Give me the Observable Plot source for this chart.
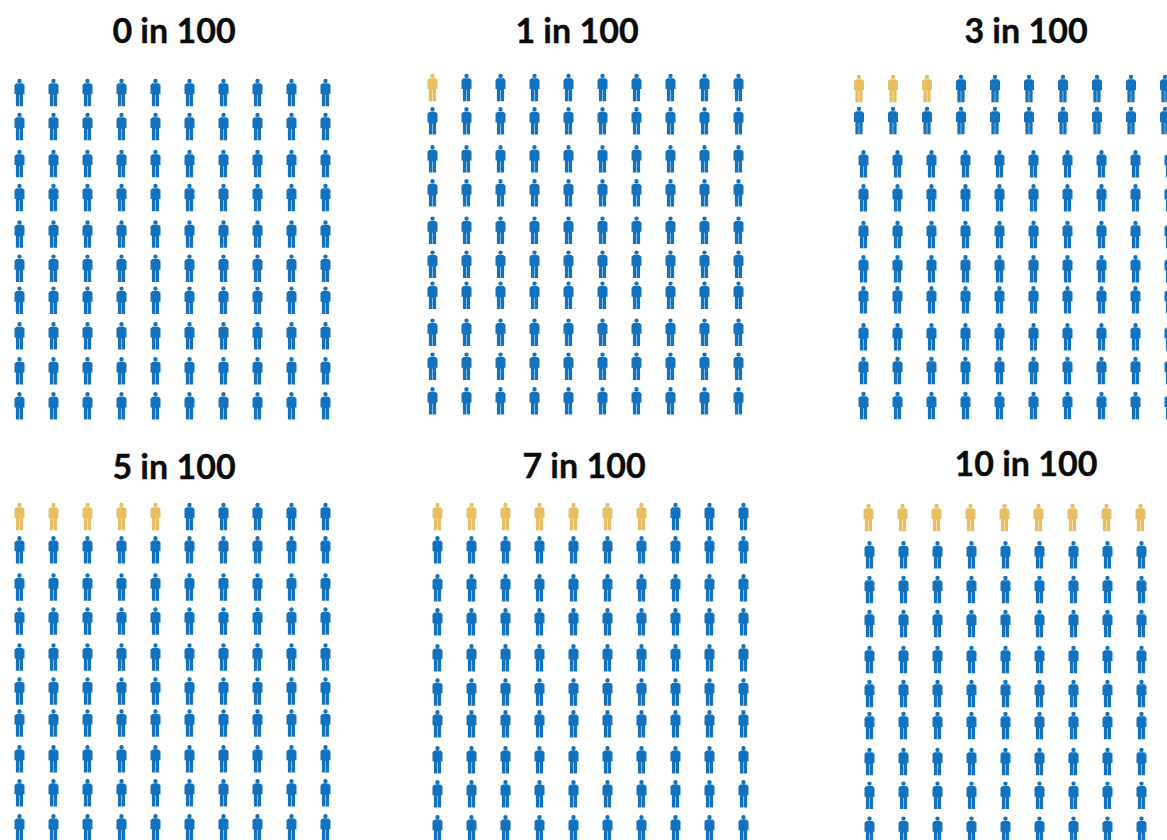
<!DOCTYPE html>
<html>
<head>
<meta charset="utf-8">
<script src="https://cdn.jsdelivr.net/npm/d3@7"></script>
<script src="https://cdn.jsdelivr.net/npm/@observablehq/plot@0.6"></script>
<style>
html,body{margin:0;padding:0;background:#fff;width:1167px;height:840px;overflow:hidden}
#page{position:relative;width:1167px;height:840px;overflow:hidden}
.panel{position:absolute}
.title{position:absolute;width:300px;margin-left:-150px;text-align:center;font:700 34px/38px Lato,"Open Sans",sans-serif;-webkit-text-stroke:0.35px #0b0b0b;color:#0b0b0b;white-space:nowrap}
.panel svg{display:block;background:transparent;max-width:none !important}
</style>
</head>
<body>
<div id="page"></div>
<script>
// Data
const affectedCounts = [0, 1, 3, 5, 7, 10];
const totalPeople = 100;
const perRow = 10;
const statusNames = ["affected", "unaffected"];
const statusColors = ["#e8be62", "#1272be"];

// Page layout of each panel (pictogram left edge, title position, row centres)
const panelLeft = [18.5, 432, 863, 18.5, 437, 869];
const titleX = [174, 577, 1026, 174, 584, 1026];
const titleTop = [11, 11, 11, 447, 446, 444];
const rowShift = [[0, 0], [0, 0], [2, -4.5], [0, 0], [0, 0], [1, -1]];
const rowCentres = [
  [92, 126, 163, 197, 233.5, 267.7, 299.7, 335.4, 370.4, 405.4],
  [87, 120.4, 158.4, 192.4, 229.7, 263.7, 294.7, 331.7, 365.7, 400.4],
  [88.4, 120.4, 163.7, 197.7, 234.4, 268.7, 299.7, 336.7, 370.4, 405.4],
  [516.4, 549.7, 587, 621, 657, 691, 723, 758.7, 792.7, 827.7],
  [516.4, 549.7, 587.7, 621.7, 657.7, 692, 723.7, 759.7, 793.7, 828.7],
  [517, 554.4, 589, 623, 659, 693, 725, 761, 794.7, 829.7]
];

const person = {
  draw(ctx, size) {
    const k = Math.sqrt(size / Math.PI) / 13.75;
    const pts = [[-3,-9.2],[3,-9.2],[5,-7.5],[5,1.5],[3.6,1.5],[3.6,13.7],[0.25,13.7],[0.25,2.5],[-0.25,2.5],[-0.25,13.7],[-3.6,13.7],[-3.6,1.5],[-5,1.5],[-5,-7.5]];
    pts.forEach(([x, y], i) => i ? ctx.lineTo(x * k, y * k) : ctx.moveTo(x * k, y * k));
    ctx.closePath();
    ctx.moveTo(2.2 * k, -11.6 * k);
    ctx.arc(0, -11.6 * k, 2.2 * k, 0, 2 * Math.PI);
    ctx.closePath();
  }
};

const page = document.getElementById("page");
const pad = 16, step = 34;

affectedCounts.forEach((count, p) => {
  const cells = d3.range(totalPeople).map(i => ({
    col: i % perRow,
    row: Math.floor(i / perRow),
    status: i < count ? statusNames[0] : statusNames[1]
  }));
  const [shiftRows, shift] = rowShift[p];
  const ys = rowCentres[p];
  const top = ys[0] - 20;
  const h = ys[9] - ys[0] + 40;
  const w = step * (perRow - 1) + 2 * pad;
  const dotOpts = {x: "col", y: "row", r: 13.75, symbol: person, fill: "status"};
  const svg = Plot.plot({
    width: w, height: h,
    margin: 0,
    x: {domain: [0, perRow - 1], range: [pad, w - pad], axis: null},
    y: {domain: d3.range(10), range: ys.map(v => v - top), type: "linear", axis: null},
    color: {domain: statusNames, range: statusColors},
    style: {background: "transparent"},
    marks: [
      Plot.dot(cells.filter(d => d.row < shiftRows), {...dotOpts, dx: shift}),
      Plot.dot(cells.filter(d => d.row >= shiftRows), dotOpts)
    ]
  });
  const box = document.createElement("div");
  box.className = "panel";
  box.style.left = (panelLeft[p] - pad) + "px";
  box.style.top = top + "px";
  box.style.width = w + "px";
  box.appendChild(svg);
  page.appendChild(box);

  const t = document.createElement("div");
  t.className = "title";
  t.style.left = titleX[p] + "px";
  t.style.top = titleTop[p] + "px";
  t.textContent = count + " in " + totalPeople;
  page.appendChild(t);
});
</script>
</body>
</html>
